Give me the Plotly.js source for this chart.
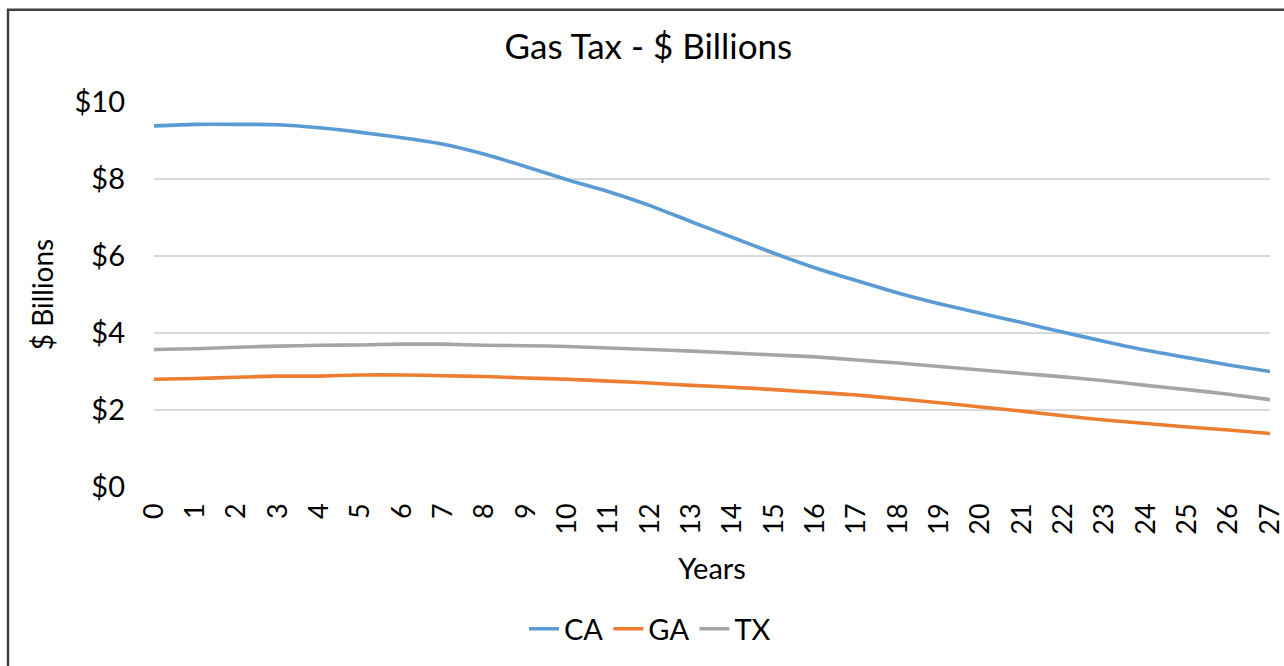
<!DOCTYPE html>
<html>
<head>
<meta charset="utf-8">
<script src="https://cdn.plot.ly/plotly-3.0.1.min.js"></script>
<style>
html,body{margin:0;padding:0;background:#fff;}
#chart{width:1284px;height:666px;}
</style>
</head>
<body>
<div id="chart"></div>
<script>
const years = [0,1,2,3,4,5,6,7,8,9,10,11,12,13,14,15,16,17,18,19,20,21,22,23,24,25,26,27];
const caValues = [9.38,9.42,9.42,9.41,9.33,9.21,9.07,8.90,8.64,8.32,7.98,7.67,7.31,6.89,6.48,6.07,5.69,5.36,5.04,4.76,4.51,4.27,4.02,3.78,3.55,3.36,3.17,3.00];
const gaValues = [2.80,2.82,2.85,2.88,2.88,2.91,2.91,2.89,2.87,2.83,2.80,2.75,2.70,2.64,2.59,2.53,2.46,2.39,2.29,2.19,2.08,1.97,1.85,1.74,1.65,1.56,1.48,1.39];
const txValues = [3.57,3.59,3.63,3.66,3.68,3.69,3.71,3.71,3.68,3.67,3.65,3.61,3.57,3.53,3.48,3.43,3.38,3.30,3.22,3.13,3.04,2.95,2.86,2.76,2.64,2.53,2.41,2.27];
const seriesNames = ['CA','GA','TX'];
const seriesColors = ['#5B9BD5','#ED7D31','#A5A5A5'];
const tickVals = [0,2,4,6,8,10];

const FONT = 'Lato, "Open Sans", sans-serif';
const allValues = [caValues, gaValues, txValues];
const traces = allValues.map((vals, i) => ({
  x: years, y: vals, name: seriesNames[i], type: 'scatter', mode: 'lines',
  line: {color: seriesColors[i], width: 3.6, shape: 'spline', smoothing: 0.6},
  hoverinfo: 'x+y+name'
}));

const L = 154, R = 14, T = 102, B = 176;
const pw = 1284 - L - R, ph = 666 - T - B;
const px = v => (v - L) / pw;
const py = v => (666 - B - v) / ph;

const layout = {
  width: 1284, height: 666,
  margin: {l: L, r: R, t: T, b: B},
  paper_bgcolor: '#ffffff', plot_bgcolor: '#ffffff',
  font: {family: FONT, color: '#000000', size: 28},
  title: {text: 'Gas Tax - $ Billions', font: {family: FONT, size: 35, color: '#000'},
          x: 0.505, xanchor: 'center', y: 1 - 47/666, yanchor: 'middle', yref: 'container'},
  showlegend: true,
  legend: {orientation: 'h', x: px(650), xanchor: 'center', y: py(633), yanchor: 'middle',
           font: {family: FONT, size: 29, color: '#000'}, itemwidth: 30, tracegroupgap: 0,
           bgcolor: 'rgba(0,0,0,0)'},
  xaxis: {
    range: [-0.0005, 27.0005], tickmode: 'array', tickvals: years, ticktext: years.map(String),
    tickangle: -90, showgrid: false, zeroline: false, showline: false, ticks: '',
    ticklabeloverflow: 'allow', automargin: false,
    ticklabelstandoff: 10, tickfont: {family: FONT, size: 27, color: '#000'},
    title: {text: 'Years', font: {family: FONT, size: 29, color: '#000'}, standoff: 24},
    fixedrange: true
  },
  yaxis: {
    range: [0, 10], tickmode: 'array', tickvals: tickVals, ticktext: tickVals.map(v => '$' + v),
    showgrid: true, gridcolor: '#d9d9d9', gridwidth: 1.5, zeroline: false, showline: false, ticks: '',
    ticklabelstandoff: 28, tickfont: {family: FONT, size: 29, color: '#000'},
    title: {text: '$ Billions', font: {family: FONT, size: 28, color: '#000'}, standoff: 12},
    fixedrange: true
  },
  shapes: [{
    type: 'path', xref: 'paper', yref: 'paper',
    path: `M ${px(8)} ${py(700)} L ${px(8)} ${py(9)} L ${px(1300)} ${py(9)}`,
    line: {color: '#404040', width: 2.5}
  }]
};

Plotly.newPlot('chart', traces, layout, {displayModeBar: false, staticPlot: true});
</script>
</body>
</html>
